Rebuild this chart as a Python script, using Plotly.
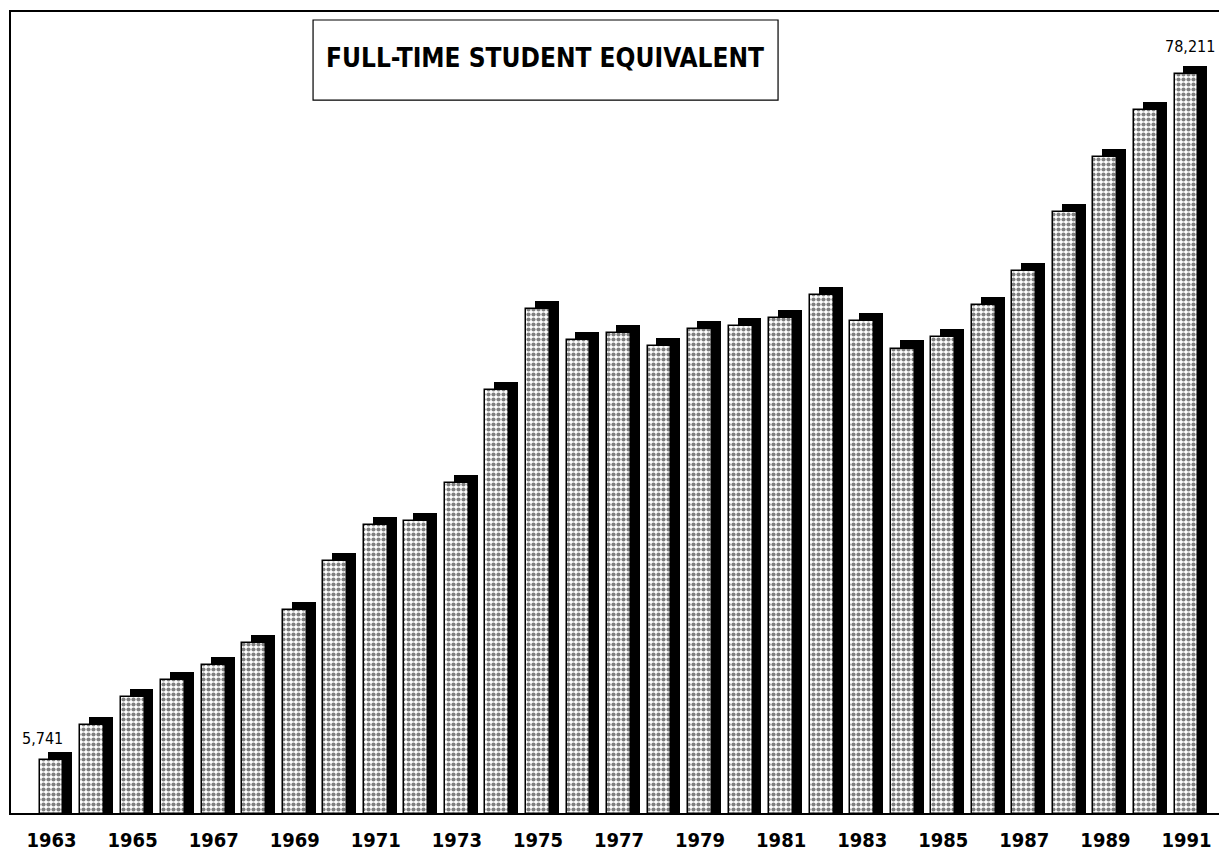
import plotly.graph_objects as go

years = list(range(1963, 1992))
fte = [5741, 9400, 12400, 14200, 15800, 18100, 21600, 26800, 30600, 31000,
       35000, 44800, 53400, 50100, 50800, 49500, 51300, 51600, 52400, 54800,
       52100, 49200, 50400, 53800, 57400, 63600, 69400, 74400, 78211]
tick_years = list(range(1963, 1992, 2))
title_text = "FULL-TIME STUDENT EQUIVALENT"
first_label = "5,741"
last_label = "78,211"

BAR_W = 0.59
DX = 0.22       # depth offset (years)
DY = 850        # depth offset (value units)
FONT = "DejaVu Sans Condensed, Liberation Sans, Arial, sans-serif"

fig = go.Figure()
# dark 3D side / top
fig.add_trace(go.Bar(
    x=[y + DX for y in years], y=[v + DY for v in fte], width=BAR_W,
    marker=dict(color="black", line=dict(width=0)), hoverinfo="skip",
    showlegend=False,
))
# stippled front face
fig.add_trace(go.Bar(
    x=years, y=fte, width=BAR_W,
    marker=dict(color="white",
                pattern=dict(shape=".", fgcolor="black", bgcolor="white",
                             size=5, solidity=0.55, fillmode="overlay"),
                line=dict(color="black", width=1.5)),
    showlegend=False,
))

fig.update_layout(
    width=1219, height=851,
    margin=dict(l=3, r=0, t=4, b=46),
    paper_bgcolor="white", plot_bgcolor="white",
    barmode="overlay", bargap=0,
    font=dict(family=FONT, color="black"),
    xaxis=dict(range=[1962, 1992], tickvals=tick_years,
               ticktext=[str(y) for y in tick_years],
               showline=True, linecolor="black", linewidth=2, mirror=True,
               ticks="", showgrid=False, zeroline=False,
               tickfont=dict(size=20, family=FONT, color="black", weight="bold"),
               ticklabelstandoff=8),
    yaxis=dict(range=[150, 84735], showticklabels=False, ticks="",
               showline=True, linecolor="black", linewidth=2,
               showgrid=False, zeroline=False),
)

fig.add_shape(type="rect", xref="paper", yref="paper",
              x0=0.2484, x1=0.6308, y0=0.890, y1=0.990,
              line=dict(color="black", width=1.2), fillcolor="white")
fig.add_annotation(xref="paper", yref="paper", x=0.439, y=0.9426,
                   text="<b>" + title_text + "</b>", showarrow=False,
                   font=dict(size=26, family=FONT, color="black"),
                   xanchor="center", yanchor="middle")

fig.add_annotation(x=years[0], y=fte[0] + DY, text=first_label, showarrow=False,
                   xanchor="center", yanchor="bottom", xshift=-9, yshift=2,
                   font=dict(size=16, family=FONT, color="black"))
fig.add_annotation(x=years[-1], y=fte[-1] + DY, text=last_label, showarrow=False,
                   xanchor="center", yanchor="bottom", xshift=4, yshift=8,
                   font=dict(size=16, family=FONT, color="black"))

fig.write_html("out.html")
